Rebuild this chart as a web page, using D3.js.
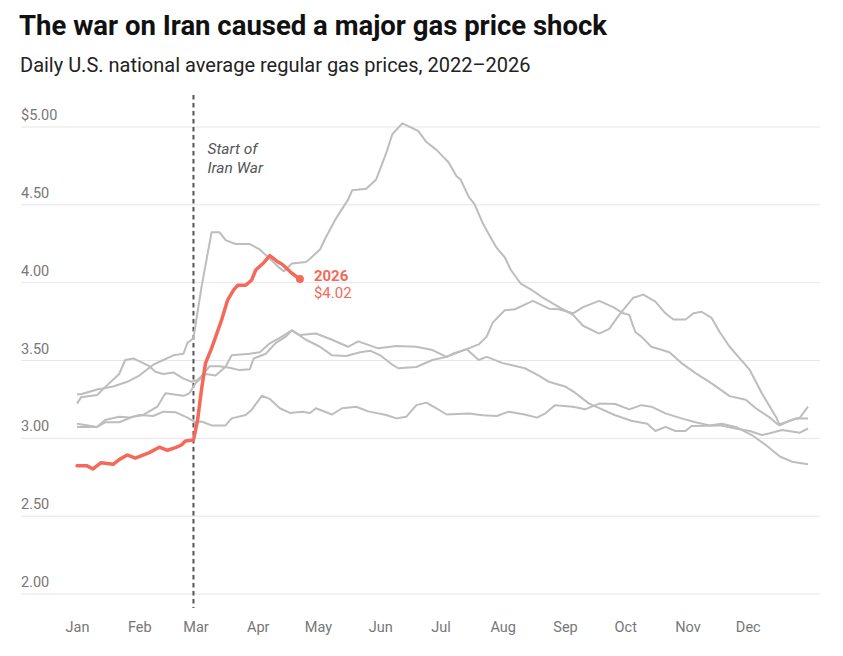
<!DOCTYPE html>
<html>
<head>
<meta charset="utf-8">
<script src="https://cdn.jsdelivr.net/npm/d3@7"></script>
<style>
  body { margin: 0; background: #fff; }
  text { font-family: Roboto, "Noto Sans", sans-serif; }
</style>
</head>
<body>
<div class="canva"></div>
<script>
// values, dates as month-day
const dates2022 = ["01-01","01-03","01-11","01-19","01-26","02-01","02-08","02-13","02-18","02-23","02-25","02-28",
  "03-04","03-09","03-13","03-16","03-21","03-28","04-02","04-07","04-12","04-14","04-18","04-25","04-27",
  "05-02","05-05","05-10","05-16","05-18","05-25","05-30","06-04","06-07","06-12","06-17","06-20","06-24","06-29",
  "07-02","07-05","07-09","07-11","07-15","07-18","07-22","07-25","07-29","08-02","08-05","08-10","08-16","08-21","08-29",
  "09-05","09-10","09-18","09-23","09-28","10-05","10-10","10-16","10-21","10-25","10-31",
  "11-04","11-08","11-13","11-17","11-22","11-27","12-02","12-08","12-15","12-17","12-22","12-27","12-31"];
const prices2022 = [3.28,3.28,3.31,3.33,3.36,3.40,3.47,3.50,3.53,3.54,3.61,3.64,
  3.97,4.32,4.32,4.27,4.245,4.245,4.21,4.15,4.09,4.07,4.12,4.13,4.15,
  4.21,4.29,4.41,4.53,4.59,4.60,4.66,4.83,4.95,5.02,4.99,4.97,4.90,4.85,
  4.81,4.77,4.68,4.66,4.55,4.50,4.38,4.31,4.22,4.16,4.08,3.99,3.945,3.90,3.84,
  3.79,3.72,3.67,3.70,3.79,3.90,3.92,3.875,3.80,3.76,3.76,
  3.80,3.81,3.77,3.68,3.585,3.51,3.436,3.286,3.136,3.08,3.11,3.13,3.20];

const dates2023 = ["01-01","01-03","01-11","01-17","01-22","01-25","01-29","02-03","02-06","02-09","02-13","02-18","02-23","02-27",
  "03-02","03-05","03-08","03-13","03-18","03-23","03-28","03-30","04-05","04-10","04-15","04-18","04-25",
  "05-02","05-08","05-15","05-22","05-27","06-01","06-07","06-10","06-19","06-27","07-04","07-14","07-20","07-24","07-27",
  "08-02","08-07","08-16","08-24","08-29","09-05","09-10","09-18","09-25","09-30","10-03","10-06","10-09","10-14","10-23","10-29",
  "11-05","11-13","11-22","11-30","12-05","12-12","12-16","12-20","12-25","12-31"];
const prices2023 = [3.22,3.26,3.275,3.35,3.41,3.50,3.51,3.48,3.46,3.425,3.41,3.42,3.38,3.36,
  3.37,3.41,3.46,3.46,3.45,3.435,3.44,3.51,3.54,3.61,3.65,3.69,3.63,
  3.585,3.53,3.526,3.55,3.56,3.53,3.47,3.447,3.455,3.50,3.52,3.57,3.60,3.65,3.74,
  3.82,3.826,3.88,3.83,3.826,3.80,3.84,3.88,3.84,3.80,3.79,3.68,3.65,3.585,3.55,3.48,
  3.416,3.35,3.268,3.245,3.19,3.13,3.085,3.10,3.125,3.125];

const dates2024 = ["01-01","01-11","01-15","01-22","01-29","02-03","02-10","02-14","02-23","02-26",
  "03-01","03-06","03-11","03-16","03-19","03-28","04-02","04-07","04-13","04-18","04-22","04-30",
  "05-08","05-16","05-21","05-31","06-09","06-19","06-27","07-04","07-07","07-14","07-20","07-24",
  "08-01","08-12","08-19","08-24","09-01","09-06","09-13","09-20","09-26","10-04","10-12","10-16","10-21","10-26","10-31",
  "11-03","11-17","11-25","12-02","12-08","12-12","12-18","12-27","12-31"];
const prices2024 = [3.07,3.07,3.10,3.10,3.136,3.147,3.20,3.286,3.27,3.286,
  3.35,3.41,3.40,3.457,3.53,3.54,3.55,3.607,3.65,3.69,3.66,3.67,
  3.63,3.585,3.62,3.575,3.59,3.585,3.564,3.52,3.54,3.57,3.50,3.52,
  3.48,3.447,3.40,3.36,3.33,3.29,3.22,3.18,3.145,3.11,3.09,3.044,3.07,3.044,3.044,
  3.076,3.08,3.06,3.044,3.018,3.03,3.05,3.033,3.06];

const dates2025 = ["01-01","01-11","01-15","01-22","01-27","02-01","02-08","02-13","02-19","02-25",
  "03-01","03-04","03-09","03-16","03-19","03-26","03-29","04-03","04-07","04-12","04-17","04-23","04-27","04-30",
  "05-08","05-13","05-20","05-26","06-04","06-09","06-14","06-19","06-24","06-29",
  "07-04","07-15","07-22","07-29","08-04","08-12","08-18","08-22","08-27","09-05","09-11","09-18","09-26",
  "10-03","10-09","10-14","10-21","10-29","11-05","11-12","11-18","11-25","12-03","12-10","12-17","12-23","12-31"];
const prices2025 = [3.09,3.07,3.115,3.136,3.13,3.147,3.14,3.168,3.165,3.13,
  3.10,3.105,3.08,3.08,3.125,3.147,3.18,3.27,3.25,3.19,3.16,3.168,3.16,3.19,
  3.15,3.19,3.20,3.17,3.147,3.125,3.136,3.21,3.226,3.19,
  3.15,3.157,3.145,3.14,3.168,3.15,3.13,3.155,3.21,3.20,3.183,3.22,3.217,
  3.183,3.21,3.20,3.157,3.125,3.10,3.08,3.09,3.07,3.018,2.954,2.88,2.847,2.83];

const dates2026 = ["01-01","01-06","01-09","01-13","01-19","01-22","01-26","01-30","02-06","02-11","02-15","02-19",
  "02-22","02-24","02-28","03-02","03-04","03-06","03-09","03-14","03-17","03-20","03-22","03-26","03-29","03-31",
  "04-04","04-07","04-11","04-13","04-18","04-22"];
const prices2026 = [2.82,2.82,2.80,2.84,2.83,2.86,2.89,2.87,2.905,2.94,2.92,2.937,
  2.954,2.98,2.986,3.11,3.31,3.48,3.575,3.757,3.885,3.95,3.98,3.98,4.014,4.078,
  4.125,4.17,4.13,4.117,4.057,4.02];

const greyYears = [2022, 2023, 2024, 2025];
const yTicks = [2.0, 2.5, 3.0, 3.5, 4.0, 4.5, 5.0];
const monthNames = ["Jan","Feb","Mar","Apr","May","Jun","Jul","Aug","Sep","Oct","Nov","Dec"];
const warStart = "02-28";

const parse = d3.utcParse("%m-%d");
const seriesOf = (dates, prices) => dates.map((d, i) => ({date: parse(d), price: prices[i]}));
const series = {
  2022: seriesOf(dates2022, prices2022),
  2023: seriesOf(dates2023, prices2023),
  2024: seriesOf(dates2024, prices2024),
  2025: seriesOf(dates2025, prices2025),
  2026: seriesOf(dates2026, prices2026)
};

const width = 843, height = 656;
const svg = d3.select('.canva').append('svg')
              .attr('width', width)
              .attr('height', height);

// scales
const x = d3.scaleUtc()
            .domain([parse("01-01"), parse("12-31")])
            .range([77, 808]);
const y = d3.scaleLinear()
            .domain([2, 5])
            .range([593.5, 126.5]);

// title + subtitle
svg.append('text')
   .attr('x', 19).attr('y', 35)
   .attr('font-size', 27.5).attr('font-weight', 700)
   .attr('fill', '#111')
   .text('The war on Iran caused a major gas price shock');
svg.append('text')
   .attr('x', 20).attr('y', 72)
   .attr('font-size', 20)
   .attr('fill', '#222')
   .text('Daily U.S. national average regular gas prices, 2022–2026');

// y grid + labels
const yAxis = d3.axisLeft(y)
                .tickValues(yTicks)
                .tickSize(-(820 - 21))
                .tickFormat(d => d === 5 ? '$' + d3.format('.2f')(d) : d3.format('.2f')(d));
const yAxisGroup = svg.append('g')
                      .attr('transform', 'translate(820, 0)')
                      .call(yAxis);
yAxisGroup.select('.domain').remove();
yAxisGroup.selectAll('.tick line')
          .attr('x1', 0).attr('x2', -(820 - 21))
          .attr('stroke', '#e6e6e6');
yAxisGroup.selectAll('.tick text')
          .attr('x', -(820 - 21)).attr('dy', -7)
          .attr('text-anchor', 'start')
          .attr('font-size', 14.5)
          .attr('font-family', 'Roboto, sans-serif')
          .attr('fill', '#777');

// x axis month labels
const xAxis = d3.axisBottom(x)
                .tickValues(monthNames.map((m, i) => d3.utcMonth.offset(parse("01-01"), i)))
                .tickSize(0)
                .tickFormat((d, i) => monthNames[i]);
const xAxisGroup = svg.append('g')
                      .attr('transform', 'translate(0, 619)')
                      .call(xAxis);
xAxisGroup.select('.domain').remove();
xAxisGroup.selectAll('.tick text')
          .attr('font-size', 14.5)
          .attr('font-family', 'Roboto, sans-serif')
          .attr('fill', '#777');

// war start marker
const xWar = x(parse(warStart));
svg.append('line')
   .attr('x1', xWar).attr('x2', xWar)
   .attr('y1', 95).attr('y2', 608)
   .attr('stroke', '#555')
   .attr('stroke-width', 2)
   .attr('stroke-dasharray', '4.5,3.5');
const warLabel = svg.append('text')
   .attr('x', xWar + 14).attr('y', 154)
   .attr('font-size', 15.5).attr('font-style', 'italic')
   .attr('fill', '#555');
warLabel.append('tspan').attr('x', xWar + 14).text('Start of');
warLabel.append('tspan').attr('x', xWar + 14).attr('dy', 19).text('Iran War');

// lines
const line = d3.line()
               .x(d => x(d.date))
               .y(d => y(d.price));

svg.append('g').selectAll('path')
   .data(greyYears)
   .enter().append('path')
   .attr('d', yr => line(series[yr]))
   .attr('fill', 'none')
   .attr('stroke', '#bdbdbd')
   .attr('stroke-width', 2)
   .attr('stroke-linejoin', 'round');

const red = '#f4695a';
const s26 = series[2026];
const last = s26[s26.length - 1];
svg.append('path')
   .attr('d', line(s26))
   .attr('fill', 'none')
   .attr('stroke', red)
   .attr('stroke-width', 3.5)
   .attr('stroke-linejoin', 'round')
   .attr('stroke-linecap', 'round');
svg.append('circle')
   .attr('cx', x(last.date)).attr('cy', y(last.price))
   .attr('r', 4)
   .attr('fill', red);

svg.append('text')
   .attr('x', x(last.date) + 14).attr('y', y(last.price) + 2)
   .attr('font-size', 15).attr('font-weight', 700)
   .attr('fill', red)
   .text('2026');
svg.append('text')
   .attr('x', x(last.date) + 14).attr('y', y(last.price) + 19)
   .attr('font-size', 15)
   .attr('fill', red)
   .text('$' + d3.format('.2f')(last.price));
</script>
</body>
</html>
